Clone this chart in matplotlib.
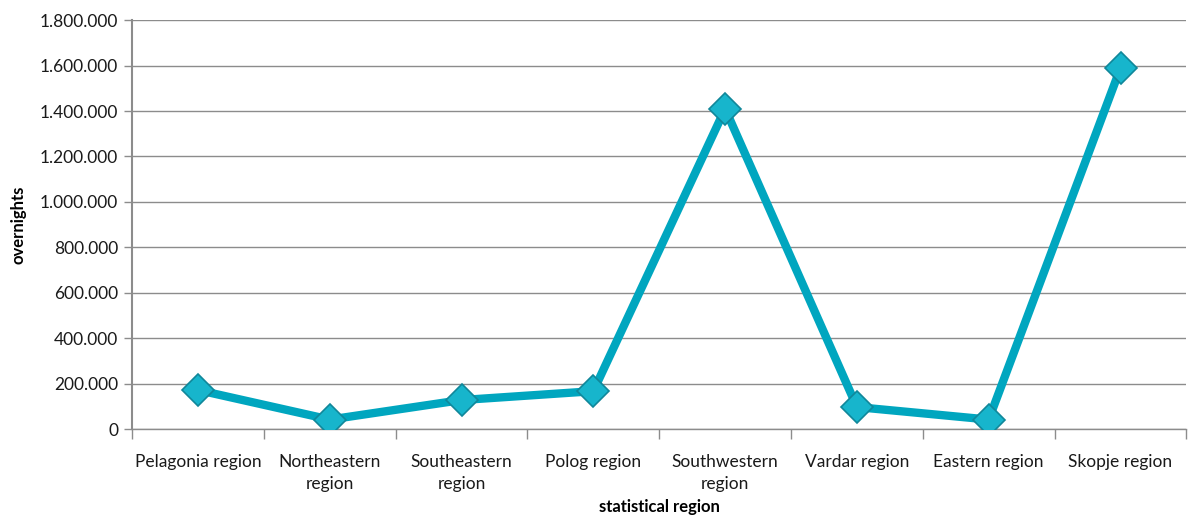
import matplotlib

matplotlib.use("Agg")
import matplotlib.pyplot as plt
import numpy as np
from matplotlib.ticker import FuncFormatter, FixedLocator

plt.rcParams["font.family"] = ["Lato", "DejaVu Sans"]

regions = ["Pelagonia region", "Northeastern\nregion", "Southeastern\nregion",
           "Polog region", "Southwestern\nregion", "Vardar region",
           "Eastern region", "Skopje region"]
overnights = [172000, 42000, 128000, 167000, 1410000, 97000, 42000, 1590000]
y_ticks = [0, 200000, 400000, 600000, 800000, 1000000, 1200000, 1400000, 1600000, 1800000]

LINE = "#00A6BF"
GRID = "#8C8C8C"

fig = plt.figure(figsize=(11.9, 5.17), dpi=100)
ax = fig.add_axes([0.111, 0.170, 0.886, 0.791])

x = np.arange(len(regions))
ax.plot(x, overnights, color=LINE, linewidth=6, solid_joinstyle="miter",
        marker="D", markersize=16, markerfacecolor="#17B5CC",
        markeredgecolor="#10879A", markeredgewidth=1.2, zorder=3)

ax.set_xlim(-0.5, len(regions) - 0.5)
ax.set_ylim(0, 1800000)
ax.set_yticks(y_ticks)
ax.yaxis.set_major_formatter(FuncFormatter(lambda v, _: f"{v:,.0f}".replace(",", ".")))
ax.set_xticks(x)
ax.set_xticklabels(regions, fontsize=12.5, color="#1a1a1a", linespacing=1.45)
ax.xaxis.set_minor_locator(FixedLocator(np.arange(-0.5, len(regions), 1.0)))
ax.tick_params(axis="x", which="major", length=0, pad=18)
ax.tick_params(axis="x", which="minor", length=7, width=1, color=GRID, direction="out")
ax.tick_params(axis="y", length=6, width=1, color=GRID, labelsize=12.5,
               labelcolor="#1a1a1a", pad=4)

ax.grid(axis="y", color=GRID, linewidth=1)
ax.set_axisbelow(True)
for side in ("top", "right"):
    ax.spines[side].set_visible(False)
ax.spines["left"].set_color(GRID)
ax.spines["left"].set_linewidth(1.5)
ax.spines["bottom"].set_color(GRID)
ax.spines["bottom"].set_linewidth(1)

ax.set_ylabel("overnights", fontsize=12, fontweight="bold")
ax.yaxis.set_label_coords(-0.1, 0.5)
ax.set_xlabel("statistical region", fontsize=12, fontweight="bold")
ax.xaxis.set_label_coords(0.5, -0.172)

fig.savefig("out.png", dpi=100)
